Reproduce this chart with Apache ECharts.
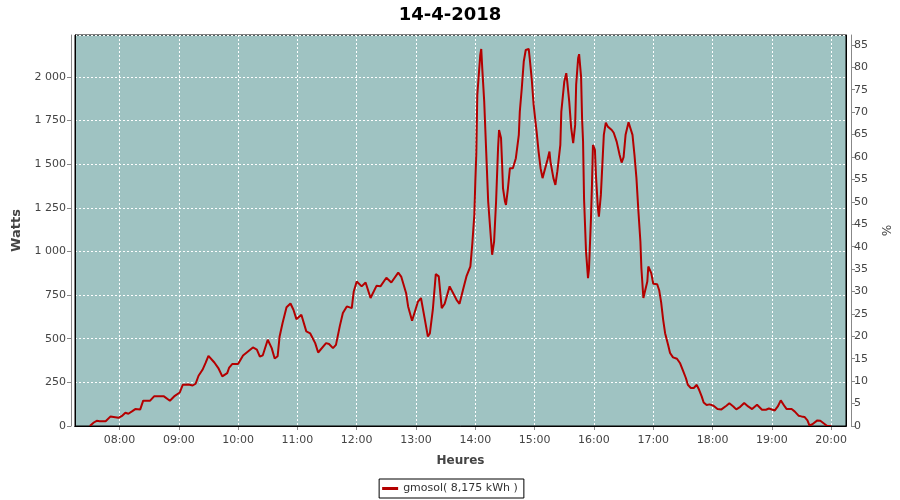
<!DOCTYPE html>
<html>
<head>
<meta charset="utf-8">
<script src="https://cdn.jsdelivr.net/npm/echarts@6/dist/echarts.min.js"></script>
<style>html,body{margin:0;padding:0;background:#fff}#c{width:900px;height:500px}</style>
</head>
<body>
<div id="c"></div>
<script>
const title = '14-4-2018';
const seriesName = 'gmosol( 8,175 kWh )';
const times = ['07:30','07:34','07:37','07:40','07:46','07:51','07:54','07:59','08:03','08:06','08:09','08:13','08:16','08:21','08:24','08:31','08:35','08:45','08:51','08:56','09:01','09:04','09:06','09:10','09:14','09:17','09:20','09:24','09:27','09:30','09:32','09:36','09:40','09:44','09:46','09:49','09:51','09:54','10:00','10:05','10:10','10:15','10:19','10:22','10:25','10:30','10:34','10:37','10:40','10:42','10:45','10:49','10:53','10:56','10:59','11:04','11:09','11:13','11:18','11:21','11:23','11:29','11:32','11:36','11:39','11:43','11:46','11:50','11:55','11:57','12:00','12:05','12:09','12:14','12:20','12:24','12:30','12:35','12:42','12:45','12:50','12:52','12:56','12:57','13:02','13:05','13:09','13:12','13:14','13:17','13:20','13:23','13:26','13:29','13:34','13:36','13:41','13:44','13:48','13:51','13:55','13:57','13:59','14:00','14:01','14:02','14:05','14:06','14:07','14:09','14:11','14:13','14:16','14:17','14:19','14:21','14:23','14:24','14:26','14:27','14:28','14:30','14:31','14:33','14:35','14:38','14:39','14:41','14:44','14:45','14:47','14:49','14:51','14:54','14:55','14:57','14:59','15:02','15:04','15:06','15:08','15:09','15:13','15:15','15:16','15:19','15:21','15:23','15:26','15:27','15:30','15:32','15:33','15:35','15:37','15:39','15:41','15:42','15:44','15:45','15:47','15:48','15:49','15:50','15:52','15:54','15:55','15:57','15:58','15:59','16:01','16:02','16:04','16:05','16:07','16:09','16:10','16:12','16:14','16:18','16:20','16:23','16:26','16:28','16:30','16:32','16:35','16:37','16:39','16:41','16:43','16:45','16:47','16:48','16:50','16:51','16:54','16:55','16:56','16:58','17:00','17:04','17:06','17:08','17:10','17:12','17:15','17:17','17:20','17:24','17:27','17:30','17:33','17:35','17:38','17:41','17:44','17:46','17:49','17:51','17:54','17:57','18:01','18:05','18:09','18:14','18:17','18:21','18:24','18:28','18:32','18:36','18:40','18:45','18:50','18:54','18:57','19:03','19:06','19:09','19:13','19:15','19:20','19:23','19:27','19:30','19:33','19:36','19:38','19:41','19:46','19:49','19:53','19:56','20:00'];
const watts = [0,20,30,27,27,55,52,47,60,76,70,85,97,95,145,145,170,170,145,173,192,236,244,238,232,242,288,322,360,402,398,364,332,284,280,303,335,355,355,404,427,450,438,398,405,494,446,387,400,513,590,680,702,666,612,637,542,530,475,421,420,475,470,446,465,575,647,685,675,771,828,800,822,733,803,800,849,822,879,856,761,685,603,603,713,733,608,513,530,666,870,857,675,700,800,800,723,700,790,857,914,1048,1210,1400,1560,1897,2126,2160,2050,1858,1572,1286,1057,981,1057,1286,1592,1696,1650,1515,1362,1286,1267,1362,1477,1477,1467,1534,1668,1801,1935,2088,2154,2160,2107,1992,1839,1687,1572,1477,1420,1420,1525,1572,1515,1420,1381,1460,1610,1801,1973,2021,1973,1858,1706,1620,1725,1954,2107,2130,2000,1760,1629,1300,1000,847,900,1191,1381,1610,1582,1439,1248,1200,1324,1553,1668,1738,1715,1696,1680,1629,1553,1509,1540,1668,1740,1735,1668,1553,1420,1229,1057,904,733,733,828,914,923,876,815,812,778,708,610,532,465,418,393,385,361,318,275,236,218,218,236,212,170,135,120,124,116,97,95,116,130,112,95,110,132,112,97,122,93,93,100,89,112,147,112,97,97,84,59,55,52,32,3,10,32,30,13,0,0];

function toDate(hm){const p=hm.split(':');return new Date(2018,3,14,+p[0],+p[1]);}
const data = times.map((t,i)=>[toDate(t), watts[i]]);
const xMin = toDate('07:15'), xMax = toDate('20:15');

const chart = echarts.init(document.getElementById('c'), null, {renderer:'canvas'});
const font = 'DejaVu Sans';
const grey = '#444';
const borderAxis = {show:true,lineStyle:{color:'#000',width:1}};
chart.setOption({
  animation:false,
  backgroundColor:'#ffffff',
  textStyle:{fontFamily:font},
  title:{text:title,left:'center',top:1,textStyle:{fontFamily:font,fontSize:18,fontWeight:'bold',color:'#000'}},
  legend:{bottom:2,left:'center',data:[seriesName],icon:'rect',itemWidth:16,itemHeight:3,itemGap:4,
    borderColor:'#000',borderWidth:1,padding:[4,6,4,3],
    textStyle:{fontFamily:font,fontSize:11,color:'#333'}},
  grid:{left:75,right:54,top:35,bottom:74,show:true,backgroundColor:'#9fc3c2',borderColor:'#000',borderWidth:1},
  xAxis:[{type:'time',min:xMin,max:xMax,minInterval:3600000,maxInterval:3600000,
    name:'Heures',nameLocation:'middle',nameGap:25,
    nameTextStyle:{fontFamily:font,fontSize:12,fontWeight:'bold',color:grey},
    offset:4,
    axisLine:{show:true,lineStyle:{color:'#888',width:1}},
    axisTick:{show:true,length:4,lineStyle:{color:'#888'}},
    axisLabel:{formatter:'{HH}:{mm}',showMinLabel:false,showMaxLabel:false,margin:5,color:grey,fontSize:11,fontFamily:font},
    splitLine:{show:true,lineStyle:{color:'#fff',type:[2,2],width:1}}},
   {type:'time',min:xMin,max:xMax,position:'top',z:5,axisLine:borderAxis,axisTick:{show:false},axisLabel:{show:false},splitLine:{show:false}},
   {type:'time',min:xMin,max:xMax,position:'bottom',z:5,axisLine:borderAxis,axisTick:{show:false},axisLabel:{show:false},splitLine:{show:false}}],
  yAxis:[{type:'value',min:0,max:2240,interval:250,position:'left',offset:4,
    name:'Watts',nameLocation:'middle',nameGap:42,nameRotate:90,
    nameTextStyle:{fontFamily:font,fontSize:13,fontWeight:'bold',color:grey},
    axisLine:{show:true,lineStyle:{color:'#888'}},
    axisTick:{show:true,length:4,lineStyle:{color:'#888'}},
    axisLabel:{showMaxLabel:false,margin:5,color:grey,fontSize:11,fontFamily:font,
      formatter:v=>String(v).replace(/\B(?=(\d{3})+(?!\d))/g,' ')},
    splitLine:{show:true,lineStyle:{color:'#fff',type:[2,2],width:1}}},
   {type:'value',min:0,max:87.2,interval:5,position:'right',offset:5,
    name:'%',nameLocation:'middle',nameGap:20,nameRotate:-90,
    nameTextStyle:{fontFamily:font,fontSize:12,color:grey},
    axisLine:{show:true,lineStyle:{color:'#888'}},
    axisTick:{show:true,length:4,lineStyle:{color:'#888'}},
    axisLabel:{showMaxLabel:false,margin:3,color:grey,fontSize:11,fontFamily:font},
    splitLine:{show:false}},
   {type:'value',min:0,max:1,position:'left',offset:0,z:5,axisLine:borderAxis,axisTick:{show:false},axisLabel:{show:false},splitLine:{show:false}},
   {type:'value',min:0,max:1,position:'right',offset:0,z:5,axisLine:borderAxis,axisTick:{show:false},axisLabel:{show:false},splitLine:{show:false}}],
  series:[{name:seriesName,type:'line',xAxisIndex:0,yAxisIndex:0,data:data,showSymbol:false,symbol:'none',
    lineStyle:{color:'#b40000',width:2},itemStyle:{color:'#b40000'}}]
});
</script>
</body>
</html>
